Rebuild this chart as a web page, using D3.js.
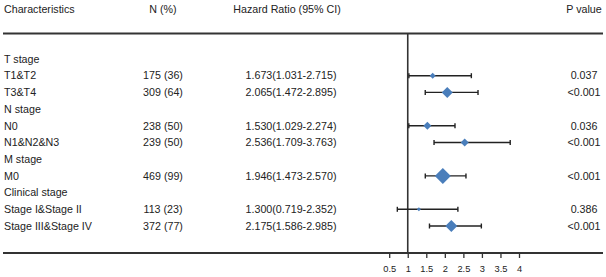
<!DOCTYPE html>
<html lang="en">
<head>
<meta charset="UTF-8">
<title>Forest plot</title>
<script src="https://d3js.org/d3.v7.min.js"></script>
<style>
  body { margin: 0; background: #fff; }
  text { font-family: "Liberation Sans", Arial, sans-serif; font-size: 10.7px; fill: #222; }
  .axis text { font-size: 9.3px; }
</style>
</head>
<body>
<script>
// rows of the table (headings have no numbers)
const labels = ["T stage", "T1&T2", "T3&T4", "N stage", "N0", "N1&N2&N3",
                "M stage", "M0", "Clinical stage", "Stage I&Stage II", "Stage III&Stage IV"];
const nPct   = ["", "175 (36)", "309 (64)", "", "238 (50)", "239 (50)", "", "469 (99)", "", "113 (23)", "372 (77)"];
const hr     = [null, 1.673, 2.065, null, 1.530, 2.536, null, 1.946, null, 1.300, 2.175];
const lower  = [null, 1.031, 1.472, null, 1.029, 1.709, null, 1.473, null, 0.719, 1.586];
const upper  = [null, 2.715, 2.895, null, 2.274, 3.763, null, 2.570, null, 2.352, 2.985];
const pval   = ["", "0.037", "<0.001", "", "0.036", "<0.001", "", "<0.001", "", "0.386", "<0.001"];
const weight = [0, 3, 5.5, 0, 4, 4, 0, 8, 0, 2, 6];   // half-width of diamond marker
const ticks  = [0.5, 1, 1.5, 2, 2.5, 3, 3.5, 4];

const W = 606, H = 277;
const svg = d3.select("body").append("svg").attr("width", W).attr("height", H);

const x = d3.scaleLinear().domain([0.5, 4]).range([389.2, 519]);
const y = d3.scalePoint().domain(d3.range(labels.length)).range([59, 226]);

const col = { label: 4, n: 163, hr: 291, p: 584 };
const topY = 33.5, botY = 253;

// header
const head = svg.append("g");
head.append("text").attr("x", col.label).attr("y", 9).attr("dy", "0.35em").text("Characteristics");
head.append("text").attr("x", col.n).attr("y", 9).attr("dy", "0.35em").attr("text-anchor", "middle").text("N (%)");
head.append("text").attr("x", 287).attr("y", 9).attr("dy", "0.35em").attr("text-anchor", "middle").text("Hazard Ratio (95% CI)");
head.append("text").attr("x", col.p).attr("y", 9).attr("dy", "0.35em").attr("text-anchor", "middle").text("P value");

// horizontal rules
svg.append("line").attr("x1", 3).attr("x2", 603).attr("y1", topY).attr("y2", topY)
  .attr("stroke", "#333").attr("stroke-width", 2);

// axis
const axis = svg.append("g").attr("class", "axis")
  .attr("transform", `translate(0,${botY})`)
  .call(d3.axisBottom(x).tickValues(ticks).tickSize(5).tickPadding(7.5).tickFormat(d3.format("")));
axis.select(".domain").remove();
axis.selectAll("line").attr("stroke", "#333").attr("stroke-width", 1.3);
axis.selectAll("text").attr("fill", "#222");
svg.append("line").attr("x1", 3).attr("x2", 603).attr("y1", botY).attr("y2", botY)
  .attr("stroke", "#333").attr("stroke-width", 2);

// reference line at HR = 1
svg.append("line").attr("x1", x(1)).attr("x2", x(1)).attr("y1", topY).attr("y2", botY)
  .attr("stroke", "#333").attr("stroke-width", 1.6);

// table text
const rows = svg.append("g").selectAll("g").data(labels).enter().append("g")
  .attr("transform", (d, i) => `translate(0,${y(i)})`);
rows.append("text").attr("x", col.label).attr("dy", "0.35em").text(d => d);
rows.append("text").attr("x", col.n).attr("dy", "0.35em").attr("text-anchor", "middle").text((d, i) => nPct[i]);
rows.append("text").attr("x", col.hr).attr("dy", "0.35em").attr("text-anchor", "middle")
  .text((d, i) => hr[i] == null ? "" : `${hr[i].toFixed(3)}(${lower[i].toFixed(3)}-${upper[i].toFixed(3)})`);
rows.append("text").attr("x", col.p).attr("dy", "0.35em").attr("text-anchor", "middle").text((d, i) => pval[i]);

// confidence intervals and diamonds
const idx = d3.range(labels.length).filter(i => hr[i] != null);
const ci = svg.append("g").selectAll("g").data(idx).enter().append("g")
  .attr("transform", i => `translate(0,${y(i)})`);
ci.append("line").attr("x1", i => x(lower[i])).attr("x2", i => x(upper[i]))
  .attr("stroke", "#222").attr("stroke-width", 1.4);
ci.append("line").attr("x1", i => x(lower[i])).attr("x2", i => x(lower[i])).attr("y1", -2.5).attr("y2", 2.5)
  .attr("stroke", "#222").attr("stroke-width", 1.4);
ci.append("line").attr("x1", i => x(upper[i])).attr("x2", i => x(upper[i])).attr("y1", -2.5).attr("y2", 2.5)
  .attr("stroke", "#222").attr("stroke-width", 1.4);
ci.append("path")
  .attr("d", i => {
    const cx = x(hr[i]), s = weight[i];
    return `M${cx - s},0L${cx},${-s}L${cx + s},0L${cx},${s}Z`;
  })
  .attr("fill", "#4a7ebb");
</script>
</body>
</html>
